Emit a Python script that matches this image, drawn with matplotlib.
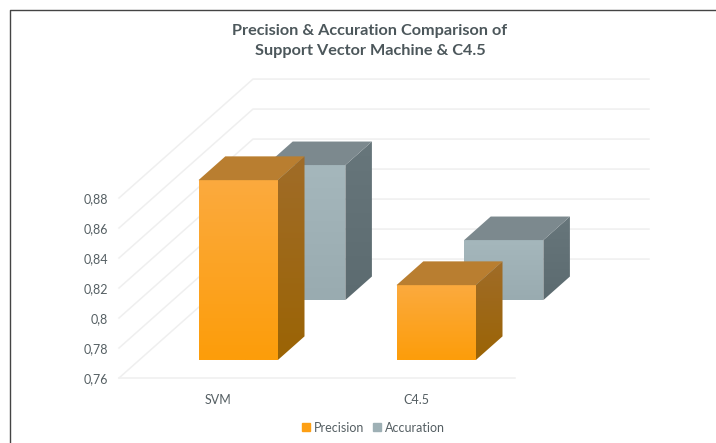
import matplotlib
matplotlib.use("Agg")
import matplotlib.pyplot as plt
import numpy as np
from matplotlib.lines import Line2D
from matplotlib.patches import Patch, Polygon

categories = ["SVM", "C4.5"]
precision = [0.88, 0.81]
accuration = [0.85, 0.80]
ticks = [0.76, 0.78, 0.80, 0.82, 0.84, 0.86, 0.88]
tick_labels = ["0,76", "0,78", "0,8", "0,82", "0,84", "0,86", "0,88"]

W, H = 716, 443
BASE = 0.76
# oblique projection: how far a point moves per unit of depth
DEPTH_X = 134 / 198
DEPTH_Y = 0.0793
BAR_W = 0.4

plt.rcParams["font.family"] = ["Lato", "DejaVu Sans"]
TEXT = "#555f63"


def proj(x, v, d):
    return x + d * DEPTH_X, v + d * DEPTH_Y


def shaded(ax, pts, top, bottom):
    # fill a polygon with a vertical gradient
    poly = Polygon(pts, closed=True, transform=ax.transData, fc="none", ec="none", clip_on=False)
    ax.add_patch(poly)
    xs = [p[0] for p in pts]
    ys = [p[1] for p in pts]
    c = np.linspace(matplotlib.colors.to_rgb(top), matplotlib.colors.to_rgb(bottom), 64)[:, None, :]
    im = ax.imshow(c, extent=[min(xs), max(xs), min(ys), max(ys)], origin="upper",
                   aspect="auto", interpolation="bilinear", zorder=poly.get_zorder())
    im.set_clip_box(ax.figure.bbox)
    im.set_clip_path(poly)


def bar3d(ax, x, value, d0, d1, front, side, roof):
    l, r = x - BAR_W / 2, x + BAR_W / 2
    shaded(ax, [proj(l, BASE, d0), proj(r, BASE, d0), proj(r, value, d0), proj(l, value, d0)], *front)
    shaded(ax, [proj(r, BASE, d0), proj(r, BASE, d1), proj(r, value, d1), proj(r, value, d0)], *side)
    ax.add_patch(Polygon([proj(l, value, d0), proj(r, value, d0), proj(r, value, d1), proj(l, value, d1)],
                         closed=True, fc=roof, ec="none", clip_on=False))


fig = plt.figure(figsize=(W / 100, H / 100), dpi=100)
ax = fig.add_axes([119 / W, (H - 378) / H, 396 / W, 180 / H])
ax.patch.set_visible(False)
for s in ax.spines.values():
    s.set_visible(False)

# walls and floor
for t in ticks:
    x0, y0 = proj(0, t, 0)
    x1, y1 = proj(0, t, 1)
    x2, y2 = proj(2, t, 1)
    ax.plot([x0, x1, x2], [y0, y1, y2], color="#efefef", lw=1.1, clip_on=False, zorder=0.5)
ax.plot([0, 2], [BASE, BASE], color="#efefef", lw=1.1, clip_on=False, zorder=0.5)

xpos = [0.5, 1.5]
for x, v in zip(xpos, accuration):
    bar3d(ax, x, v, 0.655, 0.853, ("#a5b7bc", "#99abb0"), ("#67767b", "#5c6b70"), "#7c898e")
for x, v in zip(xpos, precision):
    bar3d(ax, x, v, 0.15, 0.35, ("#fbaa3e", "#fd9d0a"), ("#a06c28", "#9b6405"), "#b97e30")

ax.set_xlim(0, 2)
ax.set_ylim(BASE, 0.88)
ax.set_xticks(xpos, categories)
ax.set_yticks(ticks, tick_labels)
ax.tick_params(length=0, labelsize=9, labelcolor=TEXT)
ax.tick_params(axis="x", pad=11.5)
ax.tick_params(axis="y", pad=8)

fig.text(370 / W, 1 - 41 / H, "Precision & Accuration Comparison of\nSupport Vector Machine & C4.5",
         ha="center", va="center", fontsize=11.7, fontweight="bold", color="#4c575b", linespacing=1.5)

handles = [Patch(color="#fd9f14", label="Precision"), Patch(color="#9eb0b5", label="Accuration")]
fig.legend(handles=handles, loc="center", bbox_to_anchor=(373.5 / W, 1 - 427.5 / H), ncol=2, frameon=False,
           fontsize=9, labelcolor=TEXT, handlelength=0.6, handleheight=0.6, handletextpad=0.35,
           columnspacing=0.7)

# frame along the top and left edges
fig.add_artist(Line2D([9.5 / W, 9.5 / W, 1], [0, 1 - 9.5 / H, 1 - 9.5 / H], color="#444444", lw=1.0))

fig.savefig("out.png", dpi=100)
